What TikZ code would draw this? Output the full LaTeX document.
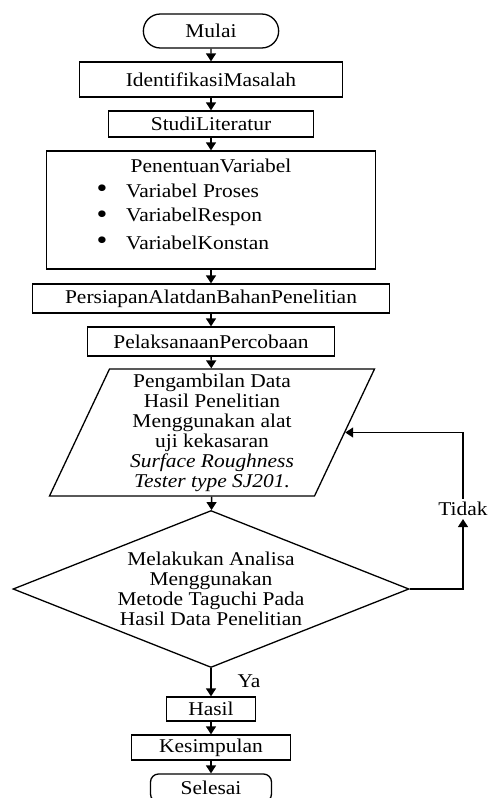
\documentclass[tikz,border=0pt]{standalone}
\usepackage{fontspec}
\setmainfont{Liberation Serif}[FakeStretch=1.1]
\usepackage{tikz}
\usetikzlibrary{arrows.meta}
\usetikzlibrary{shapes.geometric}
\usetikzlibrary{shapes.misc}
\pgfdeclarelayer{edgelayer}
\pgfdeclarelayer{nodelayer}
\pgfsetlayers{edgelayer,nodelayer,main}
\tikzstyle{none}=[inner sep=0pt,font=\fontsize{19.5}{20}\selectfont]
\tikzstyle{dot}=[inner sep=0pt,font=\fontsize{28}{28}\selectfont]
\tikzstyle{terminal}=[rounded rectangle,draw=black,line width=1.3pt,fill=white,minimum width=142pt,minimum height=34pt,font=\fontsize{19.5}{20}\selectfont]
\tikzstyle{process}=[rectangle,draw=black,line width=1.3pt,fill=white,inner sep=0pt,font=\fontsize{19.5}{20}\selectfont]
\tikzstyle{data}=[trapezium,trapezium left angle=63,trapezium right angle=117,trapezium stretches body,draw=black,line width=1.3pt,fill=white,inner sep=0pt,align=center,font=\fontsize{19.5}{20}\selectfont]
\tikzstyle{decision}=[diamond,aspect=2.52,draw=black,line width=1.3pt,fill=white,inner sep=0pt,align=center,font=\fontsize{19.5}{20}\selectfont]
\tikzstyle{flow}=[-{Triangle[length=8pt,width=10pt]},draw=black,line width=1.4pt]

\begin{document}
\begin{tikzpicture}[x=1pt,y=1pt]
	\useasboundingbox (0,0) rectangle (489,-798);
	\clip (0,0) rectangle (489,-798);
	\begin{pgfonlayer}{nodelayer}
		\node [style=terminal] (0) at (211, -31) {Mulai};
		\node [style=process, minimum width=263pt, minimum height=35pt] (1) at (211, -79.5) {IdentifikasiMasalah};
		\node [style=process, minimum width=205pt, minimum height=26pt] (2) at (211, -124) {StudiLiteratur};
		\node [style=process, minimum width=329pt, minimum height=118pt] (3) at (211, -210) {};
		\node [style=none] (4) at (211, -166) {PenentuanVariabel};
		\node [style=dot] (5) at (102, -191) {\textbullet};
		\node [style=none, anchor=west] (6) at (126, -191) {Variabel Proses};
		\node [style=dot] (7) at (102, -217) {\textbullet};
		\node [style=none, anchor=west] (8) at (126, -217) {VariabelRespon};
		\node [style=dot] (9) at (102, -243) {\textbullet};
		\node [style=none, anchor=west] (10) at (126, -243) {VariabelKonstan};
		\node [style=process, minimum width=357pt, minimum height=29pt] (11) at (211, -298.5) {PersiapanAlatdanBahanPenelitian};
		\node [style=process, minimum width=247pt, minimum height=29pt] (12) at (211, -341.5) {PelaksanaanPercobaan};
		\node [style=data, minimum width=325pt, minimum height=127pt] (13) at (212, -432.5) {Pengambilan Data\\Hasil Penelitian\\Menggunakan alat\\uji kekasaran\\\textit{Surface Roughness}\\\textit{Tester type SJ201.}};
		\node [style=decision, minimum width=396pt, minimum height=157pt] (14) at (211, -589) {Melakukan Analisa\\Menggunakan\\Metode Taguchi Pada\\Hasil Data Penelitian};
		\node [style=none, inner sep=3pt] (15) at (463, -509) {Tidak};
		\node [style=none] (16) at (249, -681) {Ya};
		\node [style=process, minimum width=89pt, minimum height=24pt] (17) at (211, -709) {Hasil};
		\node [style=process, minimum width=159pt, minimum height=25pt] (18) at (211, -747.5) {Kesimpulan};
		\node [style=process, rounded corners=8pt, minimum width=121pt, minimum height=28pt] (19) at (211, -788) {Selesai};
	\end{pgfonlayer}
	\begin{pgfonlayer}{edgelayer}
		\draw [style=flow] (0) to (1);
		\draw [style=flow] (1) to (2);
		\draw [style=flow] (2) to (3);
		\draw [style=flow] (3) to (11);
		\draw [style=flow] (11) to (12);
		\draw [style=flow] (12) to (13);
		\draw [style=flow] (13) to (14);
		\draw [style=flow] (14.east) -| (15);
		\draw [style=flow] (15) |- (13);
		\draw [style=flow] (14) to (17);
		\draw [style=flow] (17) to (18);
		\draw [style=flow] (18) to (19);
	\end{pgfonlayer}
\end{tikzpicture}
\end{document}
